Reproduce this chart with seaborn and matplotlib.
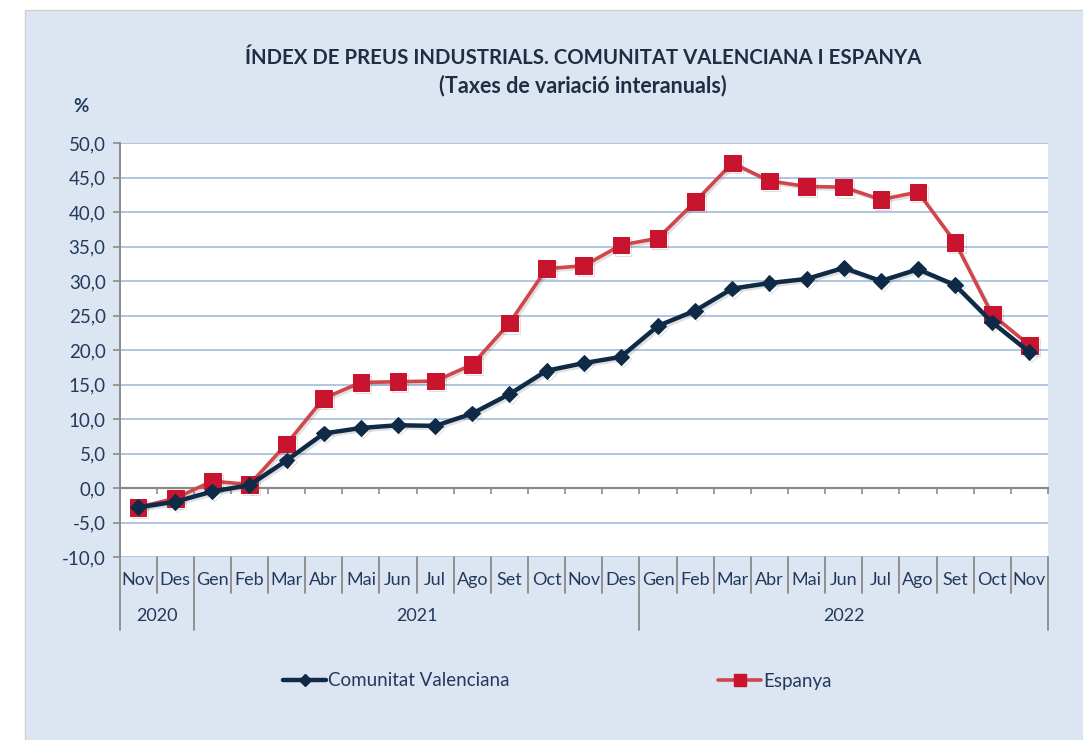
import matplotlib
matplotlib.use("Agg")
import matplotlib.pyplot as plt
import matplotlib.patheffects as pe
from matplotlib.patches import Rectangle
from matplotlib.lines import Line2D
import seaborn as sns
import pandas as pd
import numpy as np

months = ["Nov", "Des", "Gen", "Feb", "Mar", "Abr", "Mai", "Jun", "Jul", "Ago", "Set", "Oct", "Nov",
          "Des", "Gen", "Feb", "Mar", "Abr", "Mai", "Jun", "Jul", "Ago", "Set", "Oct", "Nov"]
years = ["2020", "2021", "2022"]
year_spans = [(0, 1), (2, 13), (14, 24)]
valencia = [-2.8, -2.0, -0.5, 0.4, 4.0, 7.9, 8.7, 9.1, 9.0, 10.8, 13.6, 17.0, 18.1, 19.0,
            23.5, 25.7, 28.9, 29.7, 30.3, 31.9, 30.0, 31.7, 29.4, 24.0, 19.7]
espanya = [-2.8, -1.5, 1.0, 0.5, 6.4, 13.0, 15.3, 15.4, 15.5, 17.9, 23.9, 31.8, 32.2, 35.2,
           36.2, 41.5, 47.1, 44.5, 43.7, 43.6, 41.8, 42.9, 35.6, 25.1, 20.7]
series_names = ["Comunitat Valenciana", "Espanya"]
yticks = [-10, -5, 0, 5, 10, 15, 20, 25, 30, 35, 40, 45, 50]

sns.set_theme(style="white")
plt.rcParams['font.family'] = ['Lato', 'DejaVu Sans']

TXT = '#23395d'
GRID = '#a9c0de'
AXC = '#8a8a8a'
BG = '#dce6f2'

fig = plt.figure(figsize=(10.83, 7.40), dpi=100)
fig.patch.set_facecolor('white')
fig.patches.append(Rectangle((25/1083, 0), 1 - 25/1083, 1 - 10/740, transform=fig.transFigure,
                             facecolor=BG, edgecolor='#cfcfcf', lw=1, zorder=-5))

ax = fig.add_axes([119.5/1083, 1 - 557/740, (1048 - 119.5)/1083, (557 - 143)/740])
ax.set_facecolor('white')

x = np.arange(len(months))
df = pd.DataFrame({"x": np.concatenate([x, x]),
                   "y": valencia + espanya,
                   "serie": [series_names[0]] * len(x) + [series_names[1]] * len(x)})

shadow = [pe.SimpleLineShadow(offset=(1.5, -1.5), shadow_color='#666666', alpha=0.2), pe.Normal()]

sns.lineplot(data=df[df.serie == series_names[1]], x="x", y="y", ax=ax, color='#d0464b',
             lw=2.6, marker='s', markersize=12, markerfacecolor='#c8142e',
             markeredgecolor='#c8142e', legend=False, zorder=3)
sns.lineplot(data=df[df.serie == series_names[0]], x="x", y="y", ax=ax, color='#0f2a47',
             lw=3.2, marker='D', markersize=8, markerfacecolor='#0f2a47',
             markeredgecolor='#0f2a47', legend=False, zorder=4)
for ln in ax.get_lines():
    ln.set_path_effects(shadow)

ax.set_xlim(-0.5, len(months) - 0.5)
ax.set_ylim(-10, 50)
ax.set_yticks(yticks)
ax.set_yticklabels([f"{v:.1f}".replace('.', ',') for v in yticks], color=TXT, fontsize=13.5)
ax.yaxis.grid(True, color=GRID, lw=1.3)
ax.set_axisbelow(True)
ax.set_xlabel("")
ax.set_ylabel("")

for s in ['top', 'right']:
    ax.spines[s].set_visible(False)
ax.spines['left'].set_color(AXC)
ax.spines['left'].set_linewidth(1.4)
ax.spines['bottom'].set_position(('data', 0))
ax.spines['bottom'].set_color(AXC)
ax.spines['bottom'].set_linewidth(1.6)
ax.spines['bottom'].set_zorder(2)
ax.set_xticks(np.arange(-0.5, len(months), 1.0))
ax.set_xticklabels([])
ax.tick_params(axis='x', which='major', bottom=True, direction='out', length=4, color=AXC, width=1.2)
ax.tick_params(axis='y', direction='out', length=5, color=AXC, width=1.2, left=True, pad=5)

# category table under plot
trans = ax.get_xaxis_transform()
outer = {-0.5, 1.5, 13.5, len(months) - 0.5}
for b in np.arange(-0.5, len(months), 1.0):
    y1 = -0.176 if b in outer else -0.087
    ax.plot([b, b], [0, y1], transform=trans, color=AXC, lw=1.3, clip_on=False)
for i, m in enumerate(months):
    ax.text(i, -0.055, m, transform=trans, ha='center', va='center', color=TXT, fontsize=13)
for yr, (a, b) in zip(years, year_spans):
    ax.text((a + b) / 2, -0.143, yr, transform=trans, ha='center', va='center', color=TXT, fontsize=13)

fig.text(583/1083, 1 - 58/740, "ÍNDEX DE PREUS INDUSTRIALS. COMUNITAT VALENCIANA I ESPANYA",
         ha='center', va='center', fontsize=14.7, fontweight='bold', color='#1f2d45')
fig.text(583/1083, 1 - 86/740, "(Taxes de variació interanuals)",
         ha='center', va='center', fontsize=15.5, fontweight='bold', color='#1f2d45')
fig.text(81/1083, 1 - 106/740, "%", ha='center', va='center', fontsize=13.5, fontweight='bold', color=TXT)

h_esp = Line2D([], [], color='#d0464b', lw=2.6, marker='s', markersize=8,
               markerfacecolor='#c8142e', markeredgecolor='#c8142e')
h_val = Line2D([], [], color='#0f2a47', lw=3.2, marker='D', markersize=6,
               markerfacecolor='#0f2a47', markeredgecolor='#0f2a47')
for h, name, xp in [(h_val, series_names[0], 283), (h_esp, series_names[1], 718)]:
    fig.legend(handles=[h], labels=[name], loc='center left',
               bbox_to_anchor=(xp/1083, 1 - 681/740), frameon=False, fontsize=13.5,
               handlelength=2.3, handletextpad=0.1, borderpad=0, borderaxespad=0,
               labelcolor=TXT)

fig.savefig("out.png", dpi=100, facecolor=fig.get_facecolor())
